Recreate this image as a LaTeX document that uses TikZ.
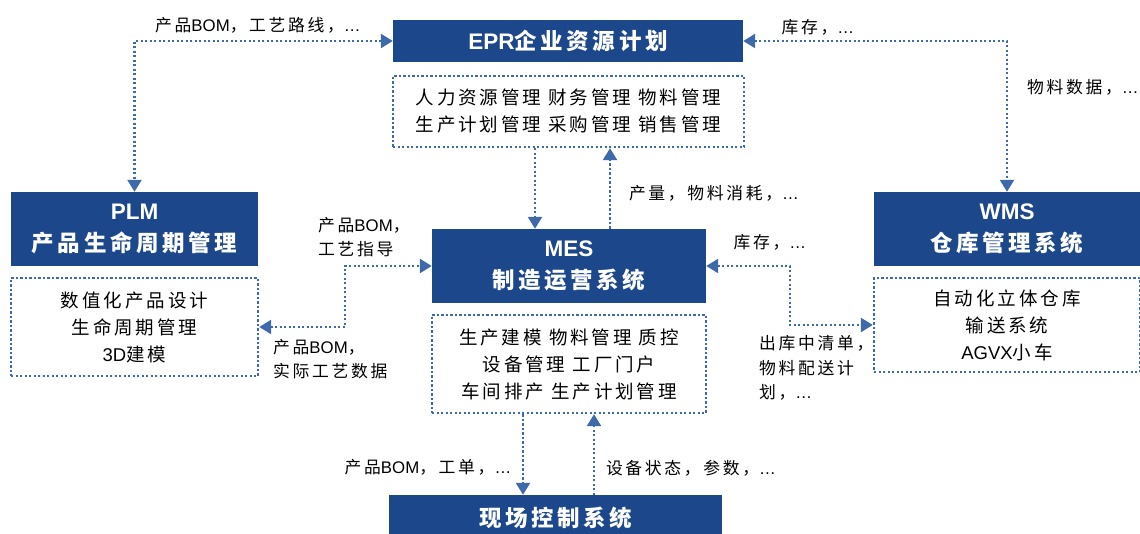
\documentclass[tikz,border=0pt]{standalone}
\usepackage{fontspec}
\setmainfont[LetterSpace=16]{Noto Sans CJK SC}
\newfontfamily\en{Liberation Sans}
\usetikzlibrary{arrows.meta}
\definecolor{boxblue}{RGB}{28,71,138}
\definecolor{lineblue}{RGB}{62,106,172}
\begin{document}
\begin{tikzpicture}[x=1pt,y=-1pt,
  title/.style={fill=boxblue, text=white, align=center, inner sep=0pt,
    font=\fontsize{22.5}{32}\selectfont\bfseries},
  detail/.style={draw=lineblue, line width=2.4pt, dash pattern=on 2.3pt off 2.2pt,
    align=center, inner sep=0pt, font=\fontsize{18.5}{27}\selectfont},
  lab/.style={inner sep=0pt, font=\fontsize{16.8}{24.5}\selectfont},
  conn/.style={draw=lineblue, line width=2.4pt, dash pattern=on 2.3pt off 2.2pt},
  tip/.style={-{Triangle[width=14pt,length=12pt]}},
  tips/.style={{Triangle[width=14pt,length=12pt]}-{Triangle[width=14pt,length=12pt]}}
]
\useasboundingbox (0,0) rectangle (1140,534);
\clip (0,0) rectangle (1140,534);

% main boxes
\node[title, minimum width=350pt, minimum height=42pt] (EPR) at (568,41) {{\en EPR}企业资源计划};
\node[detail, minimum width=351pt, minimum height=71pt] (EPRd) at (568.5,111.5)
  {人力资源管理 财务管理 物料管理\\生产计划管理 采购管理 销售管理};

\node[title, minimum width=247pt, minimum height=74pt] (PLM) at (134.5,229) {{\en PLM}\\产品生命周期管理};
\node[detail, minimum width=247pt, minimum height=98pt] (PLMd) at (134.5,327)
  {数值化产品设计\\生命周期管理\\{\en 3D}建模};

\node[title, minimum width=274pt, minimum height=74pt] (MES) at (569,266) {{\en MES}\\制造运营系统};
\node[detail, minimum width=274pt, minimum height=98pt] (MESd) at (569,364)
  {生产建模 物料管理 质控\\设备管理 工厂门户\\车间排产 生产计划管理};

\node[title, minimum width=266pt, minimum height=74pt] (WMS) at (1007,229) {{\en WMS}\\仓库管理系统};
\node[detail, minimum width=266pt, minimum height=94pt] (WMSd) at (1007,325)
  {自动化立体仓库\\输送系统\\{\en AGVX}小车};

\node[title, minimum width=333pt, minimum height=46pt] (FCS) at (555.5,518) {现场控制系统};

% labels
\node[lab] (l1) at (258,25) {产品{\en BOM}，工艺路线，{\en …}};
\node[lab] (l2) at (818,27) {库存，{\en …}};
\node[lab] (l3) at (1083,87) {物料数据，{\en …}};
\node[lab] (l4) at (714,193) {产量，物料消耗，{\en …}};
\node[lab, anchor=west, align=left] (l5) at (318,237) {产品{\en BOM}，\\工艺指导};
\node[lab, anchor=west, align=left] (l6) at (273,359) {产品{\en BOM}，\\实际工艺数据};
\node[lab] (l7) at (770,242) {库存，{\en …}};
\node[lab, anchor=west, align=left] (l8) at (759,368) {出库中清单，\\物料配送计\\划，{\en …}};
\node[lab] (l9) at (428,467) {产品{\en BOM}，工单，{\en …}};
\node[lab] (l10) at (691,468) {设备状态，参数，{\en …}};

% connectors
\draw[conn, tips] (EPR.west) -| (PLM.north);
\draw[conn, tips] (EPR.east) -| (WMS.north);

\path (MES.north) ++(-34,0) coordinate (m1);
\path (MES.north) ++(41,0) coordinate (m2);
\draw[conn, tip] (m1 |- EPRd.south) -- (m1);
\draw[conn, tip] (m2) -- (m2 |- EPRd.south);

\coordinate (c1) at (345,300);
\draw[conn, tips] (PLMd.east) -| (c1) |- (MES.west);
\coordinate (c2) at (790,300);
\draw[conn, tips] (MES.east) -| (c2) |- (WMSd.west);

\path (MESd.south) ++(-46,0) coordinate (m3);
\path (MESd.south) ++(25,0) coordinate (m4);
\draw[conn, tip] (m3) -- (m3 |- FCS.north);
\draw[conn, tip] (m4 |- FCS.north) -- (m4);
\end{tikzpicture}
\end{document}
